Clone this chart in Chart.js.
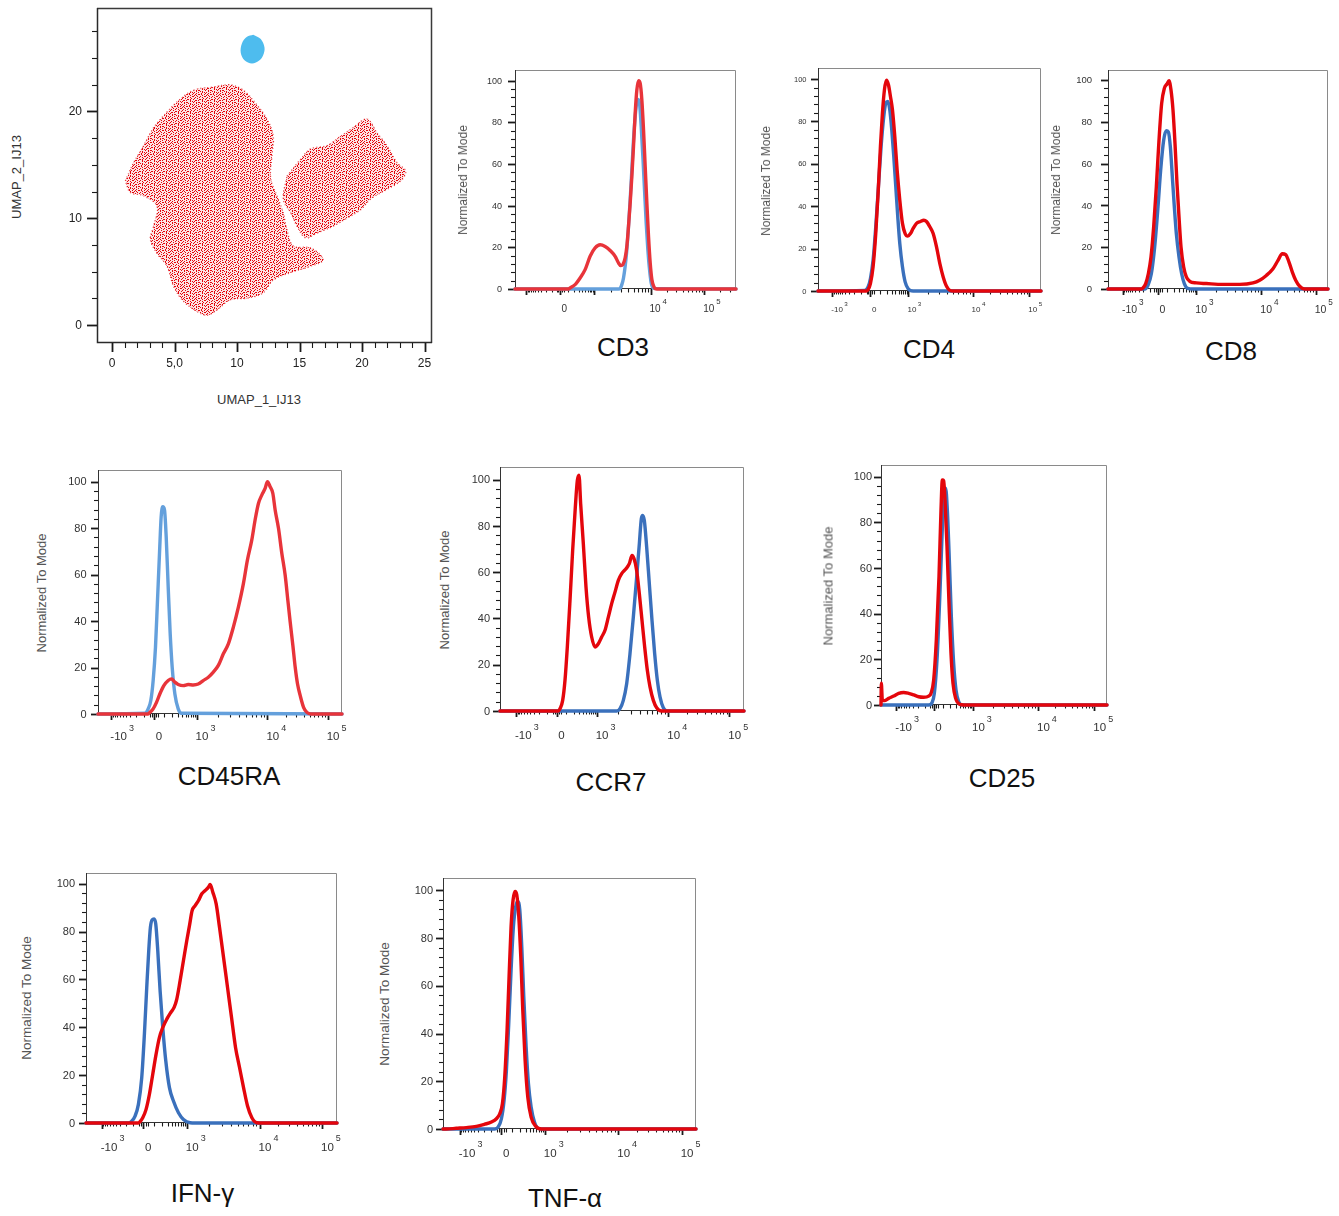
<!DOCTYPE html>
<html>
<head>
<meta charset="utf-8">
<title>UMAP and marker histograms</title>
<script src="https://cdn.jsdelivr.net/npm/chart.js"></script>
<style>
  html, body { margin: 0; padding: 0; background: #fff; }
  body { position: relative; width: 1339px; height: 1216px; overflow: hidden;
         font-family: "Liberation Sans", Arial, sans-serif; }
  canvas { position: absolute; }
  .lbl { position: absolute; white-space: nowrap; line-height: 1; transform: translate(-50%, -50%); }
  .rot { transform: translate(-50%, -50%) rotate(-90deg); }
</style>
</head>
<body>
<script>
// ---- UMAP_1_IJ13 / UMAP_2_IJ13 : cluster outlines ----
const umapRedAX = [1.07, 1.73, 2.53, 3.33, 4.13, 5.2, 6.53, 8.13, 9.47, 10.5, 11.6, 12.4, 12.9, 12.8, 12.7, 13.2, 13.7, 14.0, 14.5, 15.9, 16.9, 15.9, 14.3, 12.9, 12.1, 10.8, 9.47, 8.4, 7.6, 6.8, 5.73, 4.93, 4.4, 3.6, 3.07, 3.33, 3.6, 2.53, 1.47, 1.07];
const umapRedAY = [13.5, 15.2, 16.8, 18.5, 19.6, 20.9, 22.0, 22.3, 22.5, 22.0, 20.6, 19.3, 17.7, 15.9, 13.7, 12.1, 10.5, 8.9, 7.4, 7.2, 6.1, 5.5, 4.9, 4.2, 3.0, 2.5, 2.35, 1.4, 0.9, 1.25, 2.2, 3.6, 5.5, 6.7, 8.0, 9.25, 11.1, 12.1, 12.4, 13.5];
const umapRedBX = [14.0, 15.07, 15.9, 17.2, 18.3, 19.3, 20.4, 21.2, 22.0, 22.8, 23.5, 23.1, 22.0, 20.7, 19.9, 18.8, 17.7, 16.4, 15.5, 14.8, 14.3, 13.7, 14.0];
const umapRedBY = [13.95, 15.5, 16.5, 16.8, 17.7, 18.5, 19.3, 18.0, 16.8, 15.2, 14.4, 13.5, 12.7, 11.8, 10.8, 10.0, 9.25, 8.6, 8.15, 9.25, 10.5, 11.75, 13.95];
const umapBlueX = [11.3, 11.9, 12.2, 12.1, 11.8, 11.2, 10.6, 10.3, 10.4, 10.8, 11.3];
const umapBlueY = [27.2, 26.8, 26.0, 25.3, 24.8, 24.5, 24.8, 25.5, 26.4, 27.0, 27.2];
const umapXTickLabels = ['0', '5,0', '10', '15', '20', '25'];
const umapYTickLabels = ['0', '10', '20'];

// ---- histograms: x = display channel on the biexponential axis, y = % of mode ----
const yTickLabels = ['0', '20', '40', '60', '80', '100'];
const decadeLabels = [['-10', '3'], ['0', ''], ['10', '3'], ['10', '4'], ['10', '5']];

const cd3RedX = [195, 355, 360, 375, 390, 405, 420, 435, 450, 465, 480, 495, 505, 512, 518, 525, 530, 535, 540, 545, 550, 555, 560, 565, 570, 575, 580, 585, 590, 595, 600, 605, 612, 620, 857];
const cd3RedY = [0, 0, 0.5, 2.1, 5.3, 9.3, 15.7, 19.7, 21.2, 20.4, 18.5, 15.7, 12.5, 11.2, 11.7, 14.9, 20.4, 30, 41.2, 54, 68.4, 84.3, 95.5, 100, 98.7, 90.7, 76.4, 58.8, 41.2, 25.2, 12.5, 4.5, 0.8, 0, 0];
const cd3BlueX = [195, 505, 510, 515, 520, 525, 530, 535, 540, 545, 550, 555, 560, 563, 568, 573, 578, 583, 588, 593, 598, 603, 610, 857];
const cd3BlueY = [0, 0, 0.3, 2.1, 5.3, 10.9, 18.8, 30, 42.8, 57.2, 71.6, 82.7, 89.9, 91, 89.1, 78, 63.6, 47.6, 31.6, 18.8, 9.3, 2.9, 0.3, 0];

const cd4RedX = [205, 350, 355, 362, 370, 378, 385, 392, 398, 404, 410, 416, 422, 428, 435, 442, 450, 458, 466, 474, 482, 490, 500, 512, 522, 530, 540, 550, 560, 570, 580, 590, 600, 610, 873];
const cd4RedY = [0, 0, 0.6, 3.5, 11.4, 27.1, 46.1, 68.1, 83.9, 94.9, 99.4, 97.3, 91.8, 85.5, 72.9, 57.1, 42.9, 31.9, 27.1, 25.9, 27.1, 29.5, 31.9, 32.8, 33.4, 32.8, 30.3, 27.1, 20.8, 12.9, 6.6, 2.2, 0.3, 0, 0];
const cd4BlueX = [205, 345, 355, 362, 370, 378, 386, 394, 402, 408, 414, 420, 426, 432, 438, 444, 450, 458, 466, 475, 490, 873];
const cd4BlueY = [0, 0.3, 1.9, 5.8, 14.5, 30.3, 49.2, 68.1, 82.3, 88.6, 89.4, 85.5, 76, 63.4, 49.2, 35, 22.4, 11.4, 4.3, 1.1, 0, 0];

const cd8RedX = [205, 305, 310, 318, 326, 334, 342, 350, 358, 366, 374, 382, 388, 394, 400, 406, 412, 418, 424, 432, 440, 450, 470, 500, 550, 600, 640, 660, 680, 700, 715, 728, 738, 748, 758, 768, 780, 795, 810, 865];
const cd8RedY = [0, 0, 0.5, 2.6, 7.3, 15.3, 29.7, 48.9, 71.2, 88.8, 96, 98.1, 99.7, 95.2, 85.6, 69.6, 50.5, 34.5, 20.1, 10.5, 5.8, 3.7, 2.9, 2.6, 2.2, 2.2, 2.9, 4.2, 6.5, 9.7, 13.7, 16.9, 16.5, 12.9, 8.1, 4.2, 1.3, 0, 0, 0];
const cd8BlueX = [205, 315, 325, 335, 345, 355, 363, 372, 380, 386, 392, 398, 404, 410, 418, 426, 434, 444, 460, 865];
const cd8BlueY = [0, 0, 1.8, 7.3, 20.1, 39.3, 56.9, 71.2, 75.7, 75.2, 68.1, 53.7, 39.3, 26.5, 15.3, 7.3, 2.6, 0.3, 0, 0];

const cd45raRedX = [235, 385, 390, 400, 410, 420, 432, 445, 455, 465, 475, 490, 505, 520, 535, 550, 565, 580, 595, 610, 625, 640, 655, 670, 682, 695, 705, 715, 725, 735, 742, 750, 758, 765, 775, 785, 795, 803, 810, 818, 825, 832, 840, 850, 860, 872, 965];
const cd45raRedY = [0, 0, 0.7, 2.2, 5, 8.6, 12.2, 14.4, 15.1, 13.7, 12.7, 12.2, 12.7, 12.5, 12.9, 14.4, 15.8, 18, 20.9, 25.9, 30.2, 37.4, 46, 56.1, 66.2, 74.8, 83.5, 90.6, 94.2, 97.1, 100, 97.8, 95, 87.8, 79.9, 69.1, 59.7, 48.9, 39.6, 29.5, 20.1, 12.9, 7.9, 2.9, 0.7, 0, 0];
const cd45raBlueX = [235, 375, 385, 393, 400, 407, 413, 419, 424, 429, 434, 439, 445, 451, 457, 465, 475, 485, 965];
const cd45raBlueY = [0, 0.3, 2.2, 5.8, 14.4, 28.8, 48.9, 69.1, 84.9, 89.2, 87.8, 76.3, 54.7, 34.5, 20.1, 8.6, 2.2, 0.3, 0];

const ccr7RedX = [210, 385, 390, 398, 405, 412, 420, 428, 436, 442, 447, 452, 460, 468, 476, 485, 495, 505, 515, 525, 535, 545, 555, 565, 575, 588, 598, 606, 612, 620, 628, 636, 644, 652, 660, 670, 680, 695, 942];
const ccr7RedY = [0, 0, 1, 4.6, 13.3, 27.7, 47.8, 69.5, 88.2, 99.7, 102, 89.6, 72.3, 53.6, 40.6, 32, 27.7, 29.1, 32, 34.9, 40.6, 46.4, 51.4, 56.5, 59.4, 61.5, 63.7, 67.3, 65.9, 60.8, 50.7, 39.2, 27.7, 17.6, 10.4, 4.6, 1.4, 0, 0];
const ccr7BlueX = [210, 560, 570, 580, 590, 600, 610, 620, 628, 634, 638, 643, 650, 658, 666, 674, 682, 690, 700, 712, 942];
const ccr7BlueY = [0, 0, 1, 4.6, 11.8, 24.8, 40.6, 57.9, 72.3, 83.1, 84.6, 82.4, 70.9, 55, 39.2, 24.8, 13.3, 6.1, 1.4, 0, 0];

const cd25RedX = [212, 213, 216, 222, 235, 250, 265, 280, 295, 310, 325, 340, 355, 362, 370, 378, 386, 392, 396, 400, 404, 410, 416, 422, 428, 436, 448, 460, 890];
const cd25RedY = [0, 9.5, 2.2, 1.9, 2.9, 3.9, 5.1, 5.5, 5.1, 4.4, 3.6, 3.4, 3.9, 5.1, 10.9, 28.5, 56.2, 85.4, 98.5, 98.2, 89.8, 69.3, 44.5, 22.6, 9.5, 2.9, 0.3, 0, 0];
const cd25BlueX = [212, 355, 365, 372, 380, 388, 395, 401, 406, 411, 417, 423, 430, 437, 445, 455, 890];
const cd25BlueY = [0, 0, 1, 5.1, 19.7, 46, 73.7, 92.7, 94.9, 85.4, 63.5, 38.7, 18.2, 6.6, 1.5, 0, 0];

const ifngRedX = [228, 385, 390, 398, 408, 418, 428, 438, 448, 458, 470, 482, 492, 500, 510, 520, 530, 538, 546, 555, 565, 575, 585, 595, 600, 608, 618, 628, 640, 652, 664, 676, 688, 700, 712, 725, 740, 755, 980];
const ifngRedY = [0, 0, 0.6, 2.2, 5.7, 12, 20.4, 28.8, 35.8, 39.9, 43.4, 46.2, 48.3, 51.8, 59.5, 67.9, 76.3, 82.5, 88.8, 90.9, 93, 95.8, 97.2, 98.6, 99.7, 96.5, 91.6, 81.8, 69.3, 56.7, 44.1, 31.6, 23.2, 14.8, 7.1, 2.2, 0.1, 0, 0];
const ifngBlueX = [228, 355, 365, 375, 385, 395, 403, 410, 416, 421, 426, 432, 437, 443, 450, 458, 467, 478, 490, 505, 520, 540, 555, 980];
const ifngBlueY = [0, 0, 0.8, 2.9, 7.8, 19, 37.2, 56.7, 72.1, 81.8, 84.9, 85.3, 83.2, 72.1, 55.3, 39.9, 26, 14.8, 9.2, 4.3, 1.5, 0.1, 0, 0];

const tnfaRedX = [220, 230, 260, 290, 320, 345, 365, 380, 390, 398, 405, 412, 418, 424, 430, 436, 441, 447, 453, 459, 466, 474, 484, 498, 515, 535, 978];
const tnfaRedY = [0, 0, 0.3, 0.6, 1.1, 2, 2.9, 4.3, 6.4, 10.6, 21.8, 41.5, 63.9, 84.9, 96.1, 99.6, 98.2, 89.1, 72.3, 49.9, 28.9, 13.4, 5, 1.1, 0, 0, 0];
const tnfaBlueX = [220, 375, 385, 395, 403, 410, 417, 424, 431, 438, 444, 450, 456, 462, 469, 476, 484, 494, 505, 520, 978];
const tnfaBlueY = [0, 0, 0.8, 4.3, 12, 24.6, 44.3, 66.7, 84.9, 93.3, 95.4, 91.9, 76.5, 55.5, 34.5, 19, 9.2, 2.9, 0.3, 0, 0];

const FONT = '"Liberation Sans", Arial, sans-serif';
const pts = (xs, ys) => xs.map((x, i) => ({ x, y: ys[i] }));

function makeCanvas(frame, pad) {
  const [l, t, r, b] = frame;
  const c = document.createElement('canvas');
  const w = r - l + pad.left + pad.right, h = b - t + pad.top + pad.bottom;
  c.width = w; c.height = h;
  c.style.cssText = `left:${l - pad.left}px;top:${t - pad.top}px;width:${w}px;height:${h}px`;
  document.body.appendChild(c);
  return c;
}

function label(txt, x, y, size, color, rotated) {
  const d = document.createElement('div');
  d.className = 'lbl' + (rotated ? ' rot' : '');
  d.textContent = txt;
  d.style.left = x + 'px';
  d.style.top = y + 'px';
  d.style.fontSize = size + 'px';
  d.style.color = color;
  document.body.appendChild(d);
}

// frame, tick marks and tick labels, all placed through the chart's scales
function axesPlugin(o) {
  return {
    id: 'flowAxes',
    beforeDatasetsDraw(chart) {
      const { ctx, chartArea: a } = chart;
      const x = chart.scales.x, y = chart.scales.y;
      ctx.save();
      ctx.lineWidth = o.frameWidth;
      ctx.strokeStyle = o.frameLight;
      ctx.beginPath();
      ctx.moveTo(a.left, a.top + 0.5); ctx.lineTo(a.right - 0.5, a.top + 0.5); ctx.lineTo(a.right - 0.5, a.bottom);
      ctx.stroke();
      ctx.strokeStyle = o.frameDark;
      ctx.beginPath();
      ctx.moveTo(a.left + 0.5, a.top); ctx.lineTo(a.left + 0.5, a.bottom - 0.5); ctx.lineTo(a.right, a.bottom - 0.5);
      ctx.stroke();

      ctx.strokeStyle = '#1a1a1a';
      for (const t of o.xTicks) {
        const px = Math.round(x.getPixelForValue(t.v)) + 0.5;
        ctx.lineWidth = t.major ? 1.8 : 1.1;
        ctx.beginPath(); ctx.moveTo(px, a.bottom); ctx.lineTo(px, a.bottom + (t.major ? o.xMajor : o.xMinor)); ctx.stroke();
      }
      for (const t of o.yTicks) {
        const py = Math.round(y.getPixelForValue(t.v)) + 0.5;
        ctx.lineWidth = t.major ? 1.8 : 1.1;
        ctx.beginPath(); ctx.moveTo(a.left, py); ctx.lineTo(a.left - (t.major ? o.yMajor : o.yMinor), py); ctx.stroke();
      }

      ctx.fillStyle = o.labelColor;
      ctx.font = `${o.yFont}px ${FONT}`;
      ctx.textAlign = 'right';
      ctx.textBaseline = 'middle';
      for (const t of o.yLabels) ctx.fillText(t.text, a.left - o.yGap, y.getPixelForValue(t.v) + 0.5);

      ctx.textAlign = 'left';
      ctx.textBaseline = 'alphabetic';
      for (const t of o.xLabels) {
        ctx.font = `${o.xFont}px ${FONT}`;
        const w = ctx.measureText(t.main).width;
        let left = x.getPixelForValue(t.v) + (t.dx || 0);
        if (o.xCenter) left -= w / 2;
        ctx.fillText(t.main, left, a.bottom + o.xBase);
        if (t.sup) {
          ctx.font = `${o.xFont * 0.78}px ${FONT}`;
          ctx.fillText(t.sup, left + w + o.xFont * 0.18, a.bottom + o.xBase - o.xFont * 0.8);
        }
      }
      ctx.restore();
    }
  };
}

function chartOptions(xr, yr, pad) {
  return {
    responsive: false, animation: false, devicePixelRatio: 1, events: [],
    layout: { padding: pad },
    scales: {
      x: { type: 'linear', display: false, min: xr[0], max: xr[1] },
      y: { type: 'linear', display: false, min: yr[0], max: yr[1] }
    },
    plugins: { legend: { display: false }, tooltip: { enabled: false } }
  };
}

// ---------------- UMAP scatter ----------------
function speckle() {
  const rows = [
    '#...#..#...#',
    '..#...#..#..',
    '.#..#.....#.',
    '#.....##.#..',
    '..##.#...#..',
    '.#.......#.#',
    '#..#.##.....',
    '...#...#.#..',
    '.#...#...#.#',
    '#..#....#...',
    '..#..##.#..#',
    '.#.#.....#..'
  ];
  const tile = document.createElement('canvas');
  tile.width = tile.height = 12;
  const g = tile.getContext('2d');
  g.fillStyle = 'rgba(232,60,60,0.14)';
  g.fillRect(0, 0, 12, 12);
  g.fillStyle = 'rgb(228,4,10)';
  rows.forEach((r, j) => [...r].forEach((ch, i) => { if (ch === '#') g.fillRect(i, j, 1, 1); }));
  return g.createPattern(tile, 'repeat');
}

(function umap() {
  const frame = [97, 8, 432, 343];
  const pad = { left: 60, top: 8, right: 8, bottom: 32 };
  const dots = speckle();
  const cluster = (xs, ys, fillStyle, edge) => ({
    data: pts(xs, ys), fill: 'shape', backgroundColor: fillStyle,
    borderColor: edge, borderWidth: edge ? 1.3 : 0, borderDash: [1, 2.5],
    pointRadius: 0, tension: 0.35
  });
  const xTicks = [], yTicks = [];
  for (let v = 0; v <= 25; v++) xTicks.push({ v, major: v % 5 === 0 });
  for (let v = 0; v <= 27.5; v += 2.5) yTicks.push({ v, major: v % 10 === 0 });
  new Chart(makeCanvas(frame, pad), {
    type: 'line',
    data: { datasets: [
      cluster(umapBlueX, umapBlueY, 'rgb(78,188,238)', null),
      cluster(umapRedAX, umapRedAY, dots, 'rgba(225,20,25,0.8)'),
      cluster(umapRedBX, umapRedBY, dots, 'rgba(225,20,25,0.8)')
    ] },
    options: chartOptions([-1.2, 25.6], [-1.7, 29.7], pad),
    plugins: [axesPlugin({
      frameWidth: 1.5, frameLight: '#3a3a3a', frameDark: '#2a2a2a', labelColor: '#222',
      xTicks, yTicks, xMajor: 9, xMinor: 5, yMajor: 10, yMinor: 5,
      yFont: 12, yGap: 15, xFont: 12, xBase: 23.5, xCenter: true,
      yLabels: umapYTickLabels.map((t, i) => ({ v: i * 10, text: t })),
      xLabels: umapXTickLabels.map((t, i) => ({ v: i * 5, main: t, sup: '' }))
    })]
  });
  label('UMAP_1_IJ13', 259, 399, 13, '#333');
  label('UMAP_2_IJ13', 15.5, 177, 13, '#333', true);
})();

// ---------------- histograms ----------------
function decadeTicks(pos, xMax) {
  const [m3, z, p3, p4, p5] = pos;
  const k = Math.asinh(1000 / 150);
  const near = v => Math.asinh(v / 150) / k;
  const ticks = pos.map(v => ({ v, major: true }));
  [20, 40, 100, 200, 300, 400, 500, 600, 700, 800, 900].forEach(v => {
    ticks.push({ v: z + (p3 - z) * near(v) }, { v: z - (z - m3) * near(v) });
  });
  for (let d = 2; d < 10; d++) {
    const f = Math.log10(d);
    ticks.push({ v: p3 + (p4 - p3) * f }, { v: p4 + (p5 - p4) * f });
    if (p5 + (p5 - p4) * f < xMax) ticks.push({ v: p5 + (p5 - p4) * f });
  }
  return ticks;
}

const LIGHT = { red: 'rgb(232,52,58)', blue: 'rgb(100,160,220)' };
const DARK = { red: 'rgb(228,6,12)', blue: 'rgb(58,112,188)' };

function histogram(p) {
  const pad = { left: 46, top: 6, right: 10, bottom: 36 };
  const col = p.light ? LIGHT : DARK;
  const curve = (xs, ys, c) => ({
    data: pts(xs, ys), borderColor: c, borderWidth: 3.4, pointRadius: 0,
    cubicInterpolationMode: 'monotone', fill: false, clip: false,
    borderJoinStyle: 'round', borderCapStyle: 'round'
  });
  const yTicks = [];
  for (let v = 0; v <= 100; v += 4) yTicks.push({ v, major: v % 20 === 0 });
  new Chart(makeCanvas(p.frame, pad), {
    type: 'line',
    data: { datasets: [curve(p.redX, p.redY, col.red), curve(p.blueX, p.blueY, col.blue)] },
    options: chartOptions(p.xr, [0, p.yMax], pad),
    plugins: [axesPlugin({
      frameWidth: 1, frameLight: '#8a8a8a', frameDark: '#333', labelColor: '#333',
      xTicks: decadeTicks(p.ticks, p.xr[1]), yTicks,
      xMajor: 6, xMinor: 3.5, yMajor: 7, yMinor: 4,
      yFont: p.yFont, yGap: p.yGap, xFont: p.xFont, xBase: p.xBase, xCenter: false,
      yLabels: yTickLabels.map((t, i) => ({ v: i * 20, text: t })),
      xLabels: p.ticks.map((v, i) => ({ v, main: decadeLabels[i][0], sup: decadeLabels[i][1], dx: i === 1 ? 1.5 : -1 }))
        .filter((_, i) => p.show[i])
    })]
  });
  label(p.name, p.nameAt[0], p.nameAt[1], 26, '#111');
  label('Normalized To Mode', p.titleAt[0], p.titleAt[1], p.titleSize, '#555', true);
}

const all = [1, 1, 1, 1, 1];
[
  { name: 'CD3', frame: [515, 70, 736, 289], xr: [195, 857], yMax: 105.1, ticks: [229, 330, 432, 601, 762], show: [0, 1, 0, 1, 1],
    redX: cd3RedX, redY: cd3RedY, blueX: cd3BlueX, blueY: cd3BlueY, light: true,
    yFont: 9, yGap: 13, xFont: 10, xBase: 23, nameAt: [623, 347], titleAt: [463, 180], titleSize: 12 },
  { name: 'CD4', frame: [818, 68, 1041, 291], xr: [205, 873], yMax: 105.2, ticks: [248, 362, 476, 668, 838], show: all,
    redX: cd4RedX, redY: cd4RedY, blueX: cd4BlueX, blueY: cd4BlueY,
    yFont: 7.5, yGap: 11.5, xFont: 8, xBase: 21, nameAt: [929, 349], titleAt: [766, 181], titleSize: 12 },
  { name: 'CD8', frame: [1108, 70, 1328, 289], xr: [205, 865], yMax: 104.8, ticks: [250, 355, 470, 665, 828], show: all,
    redX: cd8RedX, redY: cd8RedY, blueX: cd8BlueX, blueY: cd8BlueY,
    yFont: 9.5, yGap: 16, xFont: 10.5, xBase: 24, nameAt: [1231, 350.5], titleAt: [1056, 180], titleSize: 12 },
  { name: 'CD45RA', frame: [98, 470, 342, 714], xr: [235, 965], yMax: 105, ticks: [275, 403, 530, 742, 922], show: all,
    redX: cd45raRedX, redY: cd45raRedY, blueX: cd45raBlueX, blueY: cd45raBlueY, light: true,
    yFont: 11, yGap: 11.5, xFont: 11.5, xBase: 26, nameAt: [229, 776], titleAt: [41, 592.5], titleSize: 13 },
  { name: 'CCR7', frame: [500, 467, 744, 711], xr: [210, 942], yMax: 105.5, ticks: [258, 380, 500, 715, 898], show: all,
    redX: ccr7RedX, redY: ccr7RedY, blueX: ccr7BlueX, blueY: ccr7BlueY,
    yFont: 11, yGap: 10, xFont: 11.5, xBase: 28, nameAt: [611, 782], titleAt: [443.5, 590], titleSize: 13 },
  { name: 'CD25', frame: [881, 465, 1107, 705], xr: [212, 890], yMax: 105.1, ticks: [258, 370, 488, 683, 852], show: all,
    redX: cd25RedX, redY: cd25RedY, blueX: cd25BlueX, blueY: cd25BlueY,
    yFont: 11, yGap: 9, xFont: 11.5, xBase: 26, nameAt: [1002, 777.5], titleAt: [827.5, 586], titleSize: 13 },
  { name: 'IFN-γ', frame: [86, 873, 337, 1123], xr: [228, 980], yMax: 104.5, ticks: [275, 400, 530, 748, 935], show: all,
    redX: ifngRedX, redY: ifngRedY, blueX: ifngBlueX, blueY: ifngBlueY,
    yFont: 11, yGap: 11, xFont: 11.5, xBase: 27.5, nameAt: [202.5, 1193], titleAt: [27, 997.5], titleSize: 13.5 },
  { name: 'TNF-α', frame: [443, 878, 696, 1129], xr: [220, 978], yMax: 105.2, ticks: [270, 395, 525, 745, 935], show: all,
    redX: tnfaRedX, redY: tnfaRedY, blueX: tnfaBlueX, blueY: tnfaBlueY,
    yFont: 11, yGap: 10, xFont: 11.5, xBase: 27.5, nameAt: [565, 1198], titleAt: [384.5, 1004], titleSize: 13.5 }
].forEach(histogram);
</script>
</body>
</html>
